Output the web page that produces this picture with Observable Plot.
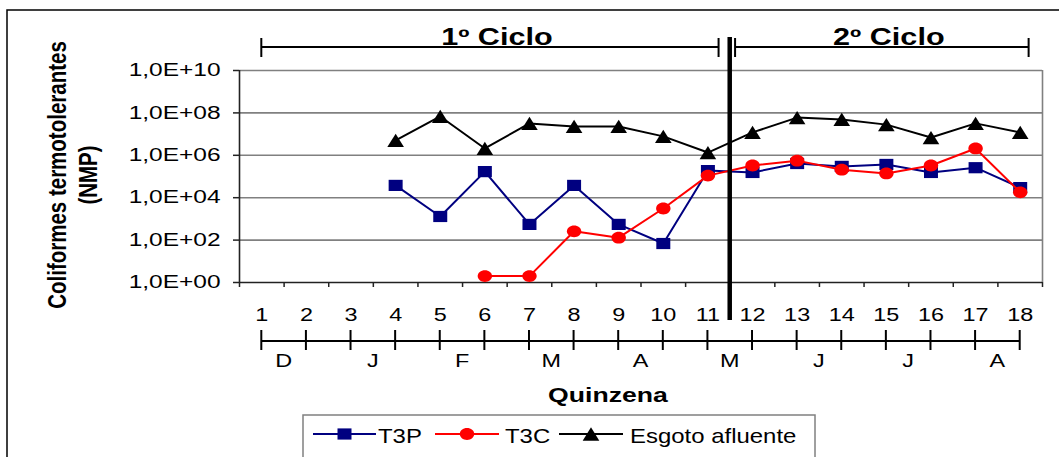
<!DOCTYPE html>
<html><head><meta charset="utf-8">
<script src="https://cdn.jsdelivr.net/npm/d3@7"></script>
<script src="https://cdn.jsdelivr.net/npm/@observablehq/plot@0.6"></script>
<style>html,body{margin:0;padding:0;background:#fff;overflow:hidden} svg{display:block}</style>
</head><body><div id="chart"></div>
<script>
// ---------- data ----------
const quinzenas = [1,2,3,4,5,6,7,8,9,10,11,12,13,14,15,16,17,18];
const monthLabels = ["D","J","F","M","A","M","J","J","A"];
const monthCenters = [1.5,3.5,5.5,7.5,9.5,11.5,13.5,15.5,17.5];
const yTickValues = [1,1e2,1e4,1e6,1e8,1e10];
const yTickLabels = ["1,0E+00","1,0E+02","1,0E+04","1,0E+06","1,0E+08","1,0E+10"];
const seriesNames = ["T3P","T3C","Esgoto afluente"];
const seriesColors = ["#000080","#FF0000","#000000"];
const t3p    = [null,null,null,3.8e4,1.3e3,1.7e5,5.5e2,3.8e4,5.5e2,69,1.9e5,1.55e5,4.1e5,3.0e5,3.7e5,1.55e5,2.6e5,3.0e4];
const t3c    = [null,null,null,null,null,2,2,2.6e2,1.3e2,3.1e3,1.1e5,3.3e5,5.6e5,2.1e5,1.4e5,3.3e5,2.1e6,1.8e4];
const esgoto = [null,null,null,5.0e6,6.8e7,2.1e6,3.2e7,2.3e7,2.3e7,7.8e6,1.35e6,1.2e7,6.0e7,4.9e7,2.8e7,6.9e6,3.2e7,1.2e7];
const cycleLabels = ["1º Ciclo","2º Ciclo"];
const cycleStart = [1, 11.62];
const cycleEnd = [11.25, 18.2];
const cycleDivider = 11.5;
const yTitle = ["Coliformes termotolerantes","(NMP)"];
const xTitle = "Quinzena";

// ---------- helpers ----------
const FONT = "'Liberation Sans', Arial, sans-serif";
function ellipse(ctx, rx, ry){const k=0.5523;ctx.moveTo(rx,0);ctx.bezierCurveTo(rx,ry*k,rx*k,ry,0,ry);ctx.bezierCurveTo(-rx*k,ry,-rx,ry*k,-rx,0);ctx.bezierCurveTo(-rx,-ry*k,-rx*k,-ry,0,-ry);ctx.bezierCurveTo(rx*k,-ry,rx,-ry*k,rx,0);ctx.closePath();}
const symSquare = {draw(ctx,size){const r=Math.sqrt(size/Math.PI);ctx.rect(-r,-r*0.8,2*r,1.6*r);}};
const symCircle = {draw(ctx,size){const r=Math.sqrt(size/Math.PI);ellipse(ctx,r,r*0.82);}};
const symTriangle = {draw(ctx,size){const r=Math.sqrt(size/Math.PI);const h=r*0.8;ctx.moveTo(0,-h);ctx.lineTo(r,h);ctx.lineTo(-r,h);ctx.closePath();}};
const symbols = [symSquare, symCircle, symTriangle];
const symR = [7, 7.2, 8.3];
const seriesData = [t3p, t3c, esgoto].map((arr, s) =>
  quinzenas.map((q,i)=>({q, v: arr[i], s: seriesNames[s]})).filter(d => d.v != null));

const marks = [
  Plot.ruleY(yTickValues.slice(1), {stroke:"#808080", strokeWidth:1.6}),
  Plot.ruleX([18.5], {stroke:"#808080", strokeWidth:1.6}),
  Plot.ruleY([1], {stroke:"#222", strokeWidth:1.6}),
  Plot.ruleX([0.5], {stroke:"#222", strokeWidth:1.6}),
  Plot.axisY({ticks: yTickValues, tickFormat: d => yTickLabels[yTickValues.indexOf(d)], tickSize: 6, tickPadding: 13, label: null, fontSize: 18, stroke:"#222", strokeWidth:1.5}),
  Plot.axisX({ticks: quinzenas.map(q => q - 0.5).concat([18.5]), tickFormat: () => "", tickSize: 5, label: null, stroke:"#222", strokeWidth:1.5}),
  Plot.axisX({ticks: quinzenas, tickSize: 0, tickPadding: 26, label: null, fontSize: 18}),
];
seriesData.forEach((data, s) => {
  marks.push(Plot.line(data, {x:"q", y:"v", stroke: seriesColors[s], strokeWidth: 2}));
  marks.push(Plot.dot(data, {x:"q", y:"v", symbol: symbols[s], r: symR[s], fill: seriesColors[s], stroke: "none"}));
});

const plot = Plot.plot({
  width: 1059, height: 457,
  marginLeft: 239, marginRight: 17, marginTop: 70, marginBottom: 175,
  x: {type: "linear", domain: [0.5, 18.5]},
  y: {type: "log", domain: [1, 1e10]},
  style: {fontFamily: FONT, fontSize: "18px", background: "#fff", color: "#000", overflow: "visible"},
  marks
});
document.getElementById("chart").appendChild(plot);

// widen texts horizontally (the reference text is wide) without moving them
function widen(el, sx){
  const L = el.getComputedTextLength();
  if (L > 0) { el.setAttribute("textLength", L * sx); el.setAttribute("lengthAdjust", "spacingAndGlyphs"); }
}
d3.select(plot).selectAll("g[aria-label='y-axis tick label'] text").each(function(){widen(this, 1.36);});
d3.select(plot).selectAll("g[aria-label='x-axis tick label'] text").each(function(){widen(this, 1.3);});

const X = v => plot.scale("x").apply(v);
const svg = d3.select(plot);
const g = svg.append("g").attr("font-family", FONT).attr("fill", "#000");

function addText(x, y, str, {size=18, weight="normal", anchor="middle", sx=1.3, rotate=0} = {}){
  const t = g.append("text").attr("text-anchor", anchor).attr("font-size", size).attr("font-weight", weight).text(str);
  if (rotate) {
    t.attr("transform", `translate(${x},${y}) scale(${sx},1) rotate(${rotate})`);
  } else {
    t.attr("x", x).attr("y", y);
    widen(t.node(), sx);
  }
  return t;
}

// outer frame
g.append("rect").attr("x",7).attr("y",10).attr("width",1100).attr("height",500)
  .attr("fill","none").attr("stroke","#000").attr("stroke-width",1.5);

// number line under the axis
const nlY = 341;
g.append("line").attr("x1",X(1)).attr("x2",X(18)).attr("y1",nlY).attr("y2",nlY).attr("stroke","#000").attr("stroke-width",2);
quinzenas.forEach(q => g.append("line").attr("x1",X(q)).attr("x2",X(q)).attr("y1",nlY-11).attr("y2",nlY+9).attr("stroke","#000").attr("stroke-width",2));
monthLabels.forEach((m,i) => addText(X(monthCenters[i]), 367, m, {size:18, sx:1.3}));

// x title
addText(608, 402, xTitle, {size:20, weight:"bold", sx:1.33});

// y title
addText(66, 175, yTitle[0], {size:20.5, weight:"bold", sx:1.3, rotate:-90});
addText(97, 175, yTitle[1], {size:20.5, weight:"bold", sx:1.3, rotate:-90});

// cycle brackets
const brY = 47;
cycleLabels.forEach((lab,i) => {
  const a = X(cycleStart[i]), b = X(cycleEnd[i]);
  g.append("line").attr("x1",a).attr("x2",b).attr("y1",brY).attr("y2",brY).attr("stroke","#000").attr("stroke-width",2);
  [a,b].forEach(x => g.append("line").attr("x1",x).attr("x2",x).attr("y1",brY-9).attr("y2",brY+10).attr("stroke","#000").attr("stroke-width",2));
  addText((a+b)/2 + 7, 45, lab, {size:23, weight:"bold", sx:1.33});
});

// divider between cycles
g.append("line").attr("x1",X(cycleDivider)).attr("x2",X(cycleDivider)).attr("y1",37).attr("y2",320)
  .attr("stroke","#000").attr("stroke-width",4.5);

// legend
g.append("rect").attr("x",303).attr("y",415).attr("width",512).attr("height",80)
  .attr("fill","#fff").attr("stroke","#808080").attr("stroke-width",1.5);
const legY = 434;
const legLine = [[313,376],[435,499],[559,623]];
const legText = [378,505,630];
seriesNames.forEach((name,i) => {
  const [a,b] = legLine[i];
  g.append("line").attr("x1",a).attr("x2",b).attr("y1",legY).attr("y2",legY).attr("stroke",seriesColors[i]).attr("stroke-width",2);
  g.append("path").attr("transform",`translate(${(a+b)/2},${legY})`)
    .attr("d", d3.symbol(symbols[i], Math.PI*symR[i]*symR[i])()).attr("fill",seriesColors[i]);
  addText(legText[i], 443, name, {size:21, anchor:"start", sx:1.14});
});
</script>
</body></html>
